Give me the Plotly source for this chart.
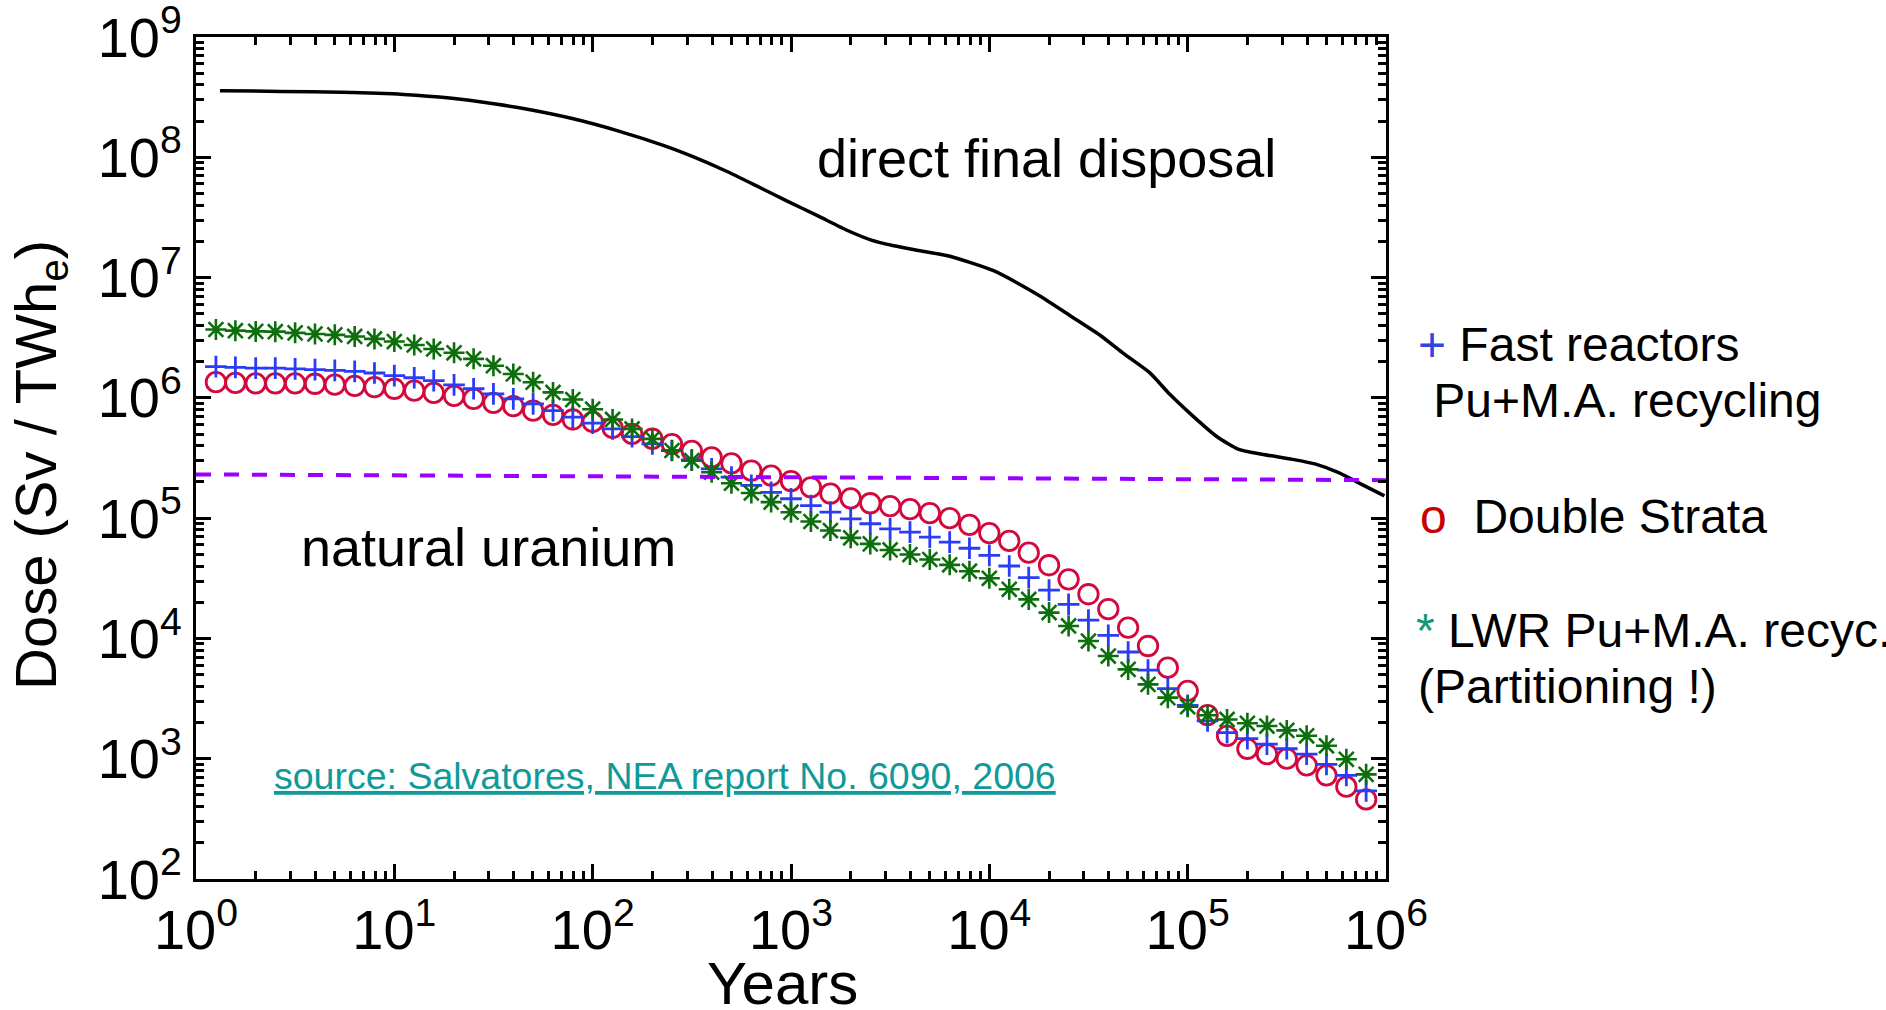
import plotly.graph_objects as go

# ---- data -------------------------------------------------------------
# time after discharge (years), shared by the three recycling scenarios
years = [1.26, 1.58, 2.0, 2.51, 3.16, 3.98, 5.01, 6.31, 7.94, 10,
         12.6, 15.8, 20, 25.1, 31.6, 39.8, 50.1, 63.1, 79.4, 100,
         126, 158, 200, 251, 316, 398, 501, 631, 794, 1000,
         1260, 1580, 2000, 2510, 3160, 3980, 5010, 6310, 7940, 10000,
         12600, 15800, 20000, 25100, 31600, 39800, 50100, 63100, 79400, 100000,
         126000, 158000, 200000, 251000, 316000, 398000, 501000, 631000, 794000]

# radiotoxicity, Sv / TWhe
fast_reactors = [1.82e6, 1.79e6, 1.77e6, 1.77e6, 1.74e6, 1.72e6, 1.69e6, 1.66e6, 1.61e6, 1.53e6,
                 1.47e6, 1.39e6, 1.28e6, 1.19e6, 1.08e6, 9.82e5, 8.91e5, 7.83e5, 6.92e5, 6.17e5,
                 5.52e5, 4.76e5, 4.15e5, 3.65e5, 3.05e5, 2.57e5, 2.19e5, 1.87e5, 1.64e5, 1.45e5,
                 1.27e5, 1.12e5, 9.86e4, 8.98e4, 8.15e4, 7.64e4, 6.95e4, 6.31e4, 5.62e4, 4.90e4,
                 4.00e4, 3.20e4, 2.52e4, 1.92e4, 1.42e4, 1.06e4, 7.71e3, 5.46e3, 3.83e3, 2.78e3,
                 2.06e3, 1.65e3, 1.47e3, 1.32e3, 1.21e3, 1.09e3, 8.97e2, 7.28e2, 5.40e2]

double_strata = [1.35e6, 1.33e6, 1.32e6, 1.32e6, 1.32e6, 1.31e6, 1.29e6, 1.26e6, 1.23e6, 1.19e6,
                 1.15e6, 1.10e6, 1.04e6, 9.82e5, 9.08e5, 8.53e5, 7.83e5, 7.23e5, 6.61e5, 6.31e5,
                 5.62e5, 5.01e5, 4.57e5, 4.12e5, 3.63e5, 3.20e5, 2.85e5, 2.48e5, 2.26e5, 2.03e5,
                 1.80e5, 1.60e5, 1.46e5, 1.33e5, 1.26e5, 1.19e5, 1.10e5, 1.00e5, 8.79e4, 7.52e4,
                 6.46e4, 5.16e4, 4.06e4, 3.10e4, 2.33e4, 1.75e4, 1.23e4, 8.65e3, 5.71e3, 3.66e3,
                 2.30e3, 1.55e3, 1.21e3, 1.09e3, 1.00e3, 8.81e2, 7.28e2, 5.86e2, 4.59e2]

lwr_recycling = [3.70e6, 3.62e6, 3.57e6, 3.55e6, 3.47e6, 3.40e6, 3.34e6, 3.24e6, 3.09e6, 2.94e6,
                 2.75e6, 2.55e6, 2.37e6, 2.11e6, 1.85e6, 1.58e6, 1.35e6, 1.11e6, 9.68e5, 8.05e5,
                 6.61e5, 5.52e5, 4.56e5, 3.65e5, 3.01e5, 2.41e5, 1.95e5, 1.62e5, 1.36e5, 1.12e5,
                 9.38e4, 7.89e4, 6.86e4, 6.11e4, 5.44e4, 4.98e4, 4.53e4, 4.09e4, 3.62e4, 3.16e4,
                 2.56e4, 2.11e4, 1.64e4, 1.27e4, 9.51e3, 7.14e3, 5.53e3, 4.15e3, 3.22e3, 2.71e3,
                 2.30e3, 2.12e3, 1.97e3, 1.87e3, 1.72e3, 1.55e3, 1.28e3, 9.89e2, 7.41e2]

# spent fuel sent straight to a repository
direct_years = [1.32, 2.68, 5.46, 11.1, 19.0, 32.4, 46.2, 78.9, 134, 229,
                327, 467, 667, 951, 1360, 1940, 2540, 3300, 4320, 6170,
                8050, 10500, 13700, 17900, 25600, 36600, 47600, 64300, 81300, 106000,
                139000, 181000, 237000, 338000, 442000, 577000, 754000, 982000]
direct_dose = [3.58e8, 3.53e8, 3.47e8, 3.33e8, 3.11e8, 2.77e8, 2.52e8, 2.10e8, 1.66e8, 1.25e8,
               9.98e7, 7.73e7, 5.81e7, 4.34e7, 3.27e7, 2.45e7, 2.05e7, 1.84e7, 1.69e7, 1.52e7,
               1.33e7, 1.14e7, 9.10e6, 7.05e6, 4.81e6, 3.27e6, 2.33e6, 1.62e6, 1.07e6, 7.08e5,
               4.82e5, 3.73e5, 3.40e5, 3.08e5, 2.81e5, 2.39e5, 1.91e5, 1.53e5]

# radiotoxicity of the natural uranium ore used to make the fuel
uranium_years = [1, 1000000]
uranium_dose = [2.31e5, 2.07e5]

decade_vals_x = [1, 10, 100, 1000, 10000, 100000, 1000000]
decade_text_x = ["10<sup>0</sup>", "10<sup>1</sup>", "10<sup>2</sup>", "10<sup>3</sup>",
                 "10<sup>4</sup>", "10<sup>5</sup>", "10<sup>6</sup>"]
decade_vals_y = [1e2, 1e3, 1e4, 1e5, 1e6, 1e7, 1e8, 1e9]
decade_text_y = ["10<sup>2</sup>", "10<sup>3</sup>", "10<sup>4</sup>", "10<sup>5</sup>",
                 "10<sup>6</sup>", "10<sup>7</sup>", "10<sup>8</sup>", "10<sup>9</sup>"]

# ---- styling ------------------------------------------------------------
FONT = "Liberation Sans, Arial, sans-serif"
RED = "#d3083c"
BLUE = "#2a3cf6"
GREEN = "#0d6e0d"
PURPLE = "#9a00ff"

W, H = 1886, 1010
L, R, T, B = 196, 500, 37, 131
PW, PH = W - L - R, H - T - B


def px(x):
    return (x - L) / PW


def py(y):
    return 1 - (y - T) / PH


fig = go.Figure()

fig.add_trace(go.Scatter(x=direct_years, y=direct_dose, mode="lines",
                         line=dict(color="black", width=3.5, shape="spline", smoothing=0.6),
                         hoverinfo="skip"))

fig.add_trace(go.Scatter(x=years, y=double_strata, mode="markers",
                         marker=dict(symbol="circle-open", size=19.5, color=RED,
                                     line=dict(color=RED, width=2.8))))
fig.add_trace(go.Scatter(x=years, y=fast_reactors, mode="markers",
                         marker=dict(symbol="cross-thin-open", size=15.5, color=BLUE,
                                     line=dict(color=BLUE, width=2.8))))
fig.add_trace(go.Scatter(x=years, y=lwr_recycling, mode="markers",
                         marker=dict(symbol="asterisk-open", size=17.5, color=GREEN,
                                     line=dict(color=GREEN, width=2.6))))

fig.add_trace(go.Scatter(x=uranium_years, y=uranium_dose, mode="lines",
                         line=dict(color=PURPLE, width=4, dash="15px,13px"),
                         hoverinfo="skip"))

axis_common = dict(
    type="log",
    showline=True, linecolor="black", linewidth=3, mirror="ticks",
    ticks="inside", ticklen=15, tickwidth=3, tickcolor="black",
    showgrid=False, zeroline=False,
    tickfont=dict(family=FONT, size=56, color="black"),
    ticklabeloverflow="allow",
    minor=dict(ticks="inside", ticklen=8, tickwidth=2.5, tickcolor="black",
               dtick="D1", showgrid=False),
)

fig.update_xaxes(range=[0, 6], tickmode="array", tickvals=decade_vals_x,
                 ticktext=decade_text_x, **axis_common)
fig.update_yaxes(range=[2, 9], tickmode="array", tickvals=decade_vals_y,
                 ticktext=decade_text_y, **axis_common)


def label(text, x, yc, size, color="black", xanchor="left", angle=0):
    fig.add_annotation(text=text, xref="paper", yref="paper",
                       x=px(x), y=py(yc), xanchor=xanchor, yanchor="middle",
                       showarrow=False, textangle=angle,
                       font=dict(family=FONT, size=size, color=color))


# axis titles
label("Years", 782, 983, 60, xanchor="center")
label("Dose (Sv / TWh<sub>e</sub>)", 40, 465, 58, xanchor="center", angle=-90)

# curve labels
label("direct final disposal", 815, 158, 54)
label("natural uranium", 299, 547, 54)
label("<u>source: Salvatores, NEA report No. 6090, 2006</u>", 272, 776, 37.5, "#0f9a9a")

# key
label('<span style="color:#3344e0">+</span> Fast reactors', 1416, 344, 48)
label("\u00a0Pu+M.A. recycling", 1418, 400, 48)
label('<span style="color:#c80000">o</span>\u00a0\u00a0Double Strata', 1418, 516, 48)
label('<span style="color:#119977">*</span> LWR Pu+M.A. recyc.', 1414, 630, 48)
label("(Partitioning !)", 1416, 686, 48)

fig.update_layout(
    width=W, height=H,
    margin=dict(l=L, r=R, t=T, b=B, autoexpand=False),
    paper_bgcolor="white", plot_bgcolor="white",
    showlegend=False,
    font=dict(family=FONT, color="black"),
)

fig.write_html("out.html")
